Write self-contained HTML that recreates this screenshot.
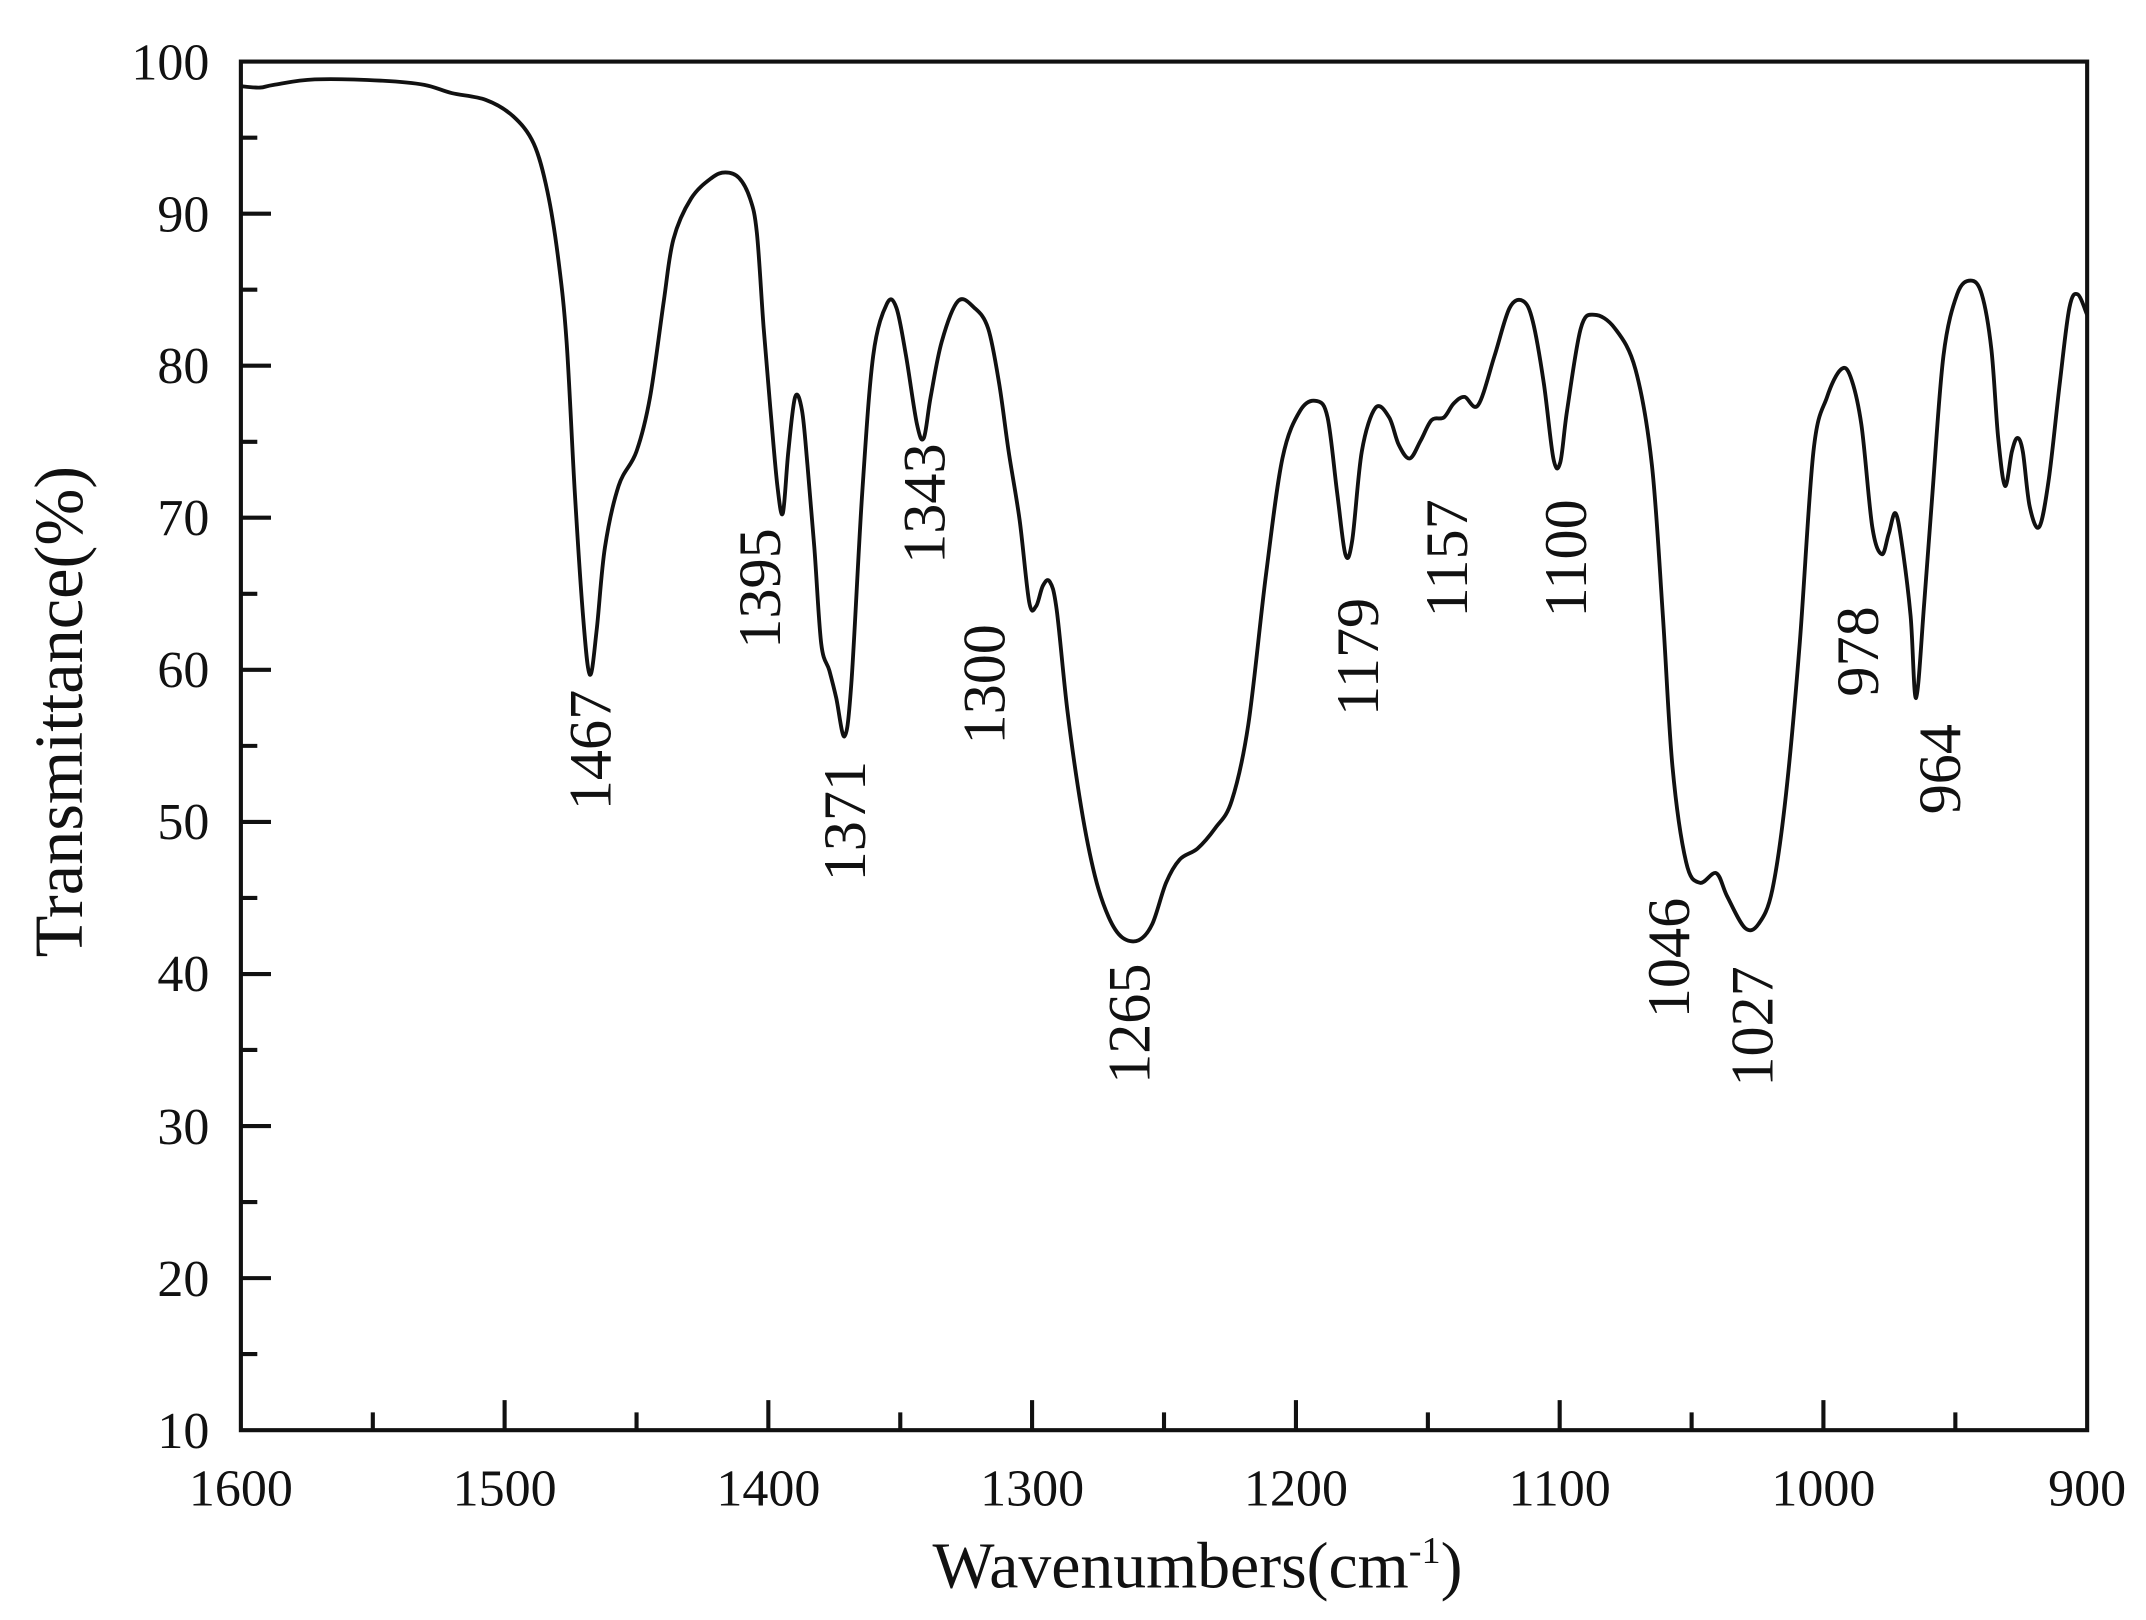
<!DOCTYPE html>
<html><head><meta charset="utf-8"><style>html,body{margin:0;padding:0;background:#fff}svg{display:block}</style></head>
<body>
<svg width="2146" height="1620" viewBox="0 0 1568 1183.7" preserveAspectRatio="none" xmlns="http://www.w3.org/2000/svg" font-family="'Liberation Serif', serif" fill="#111">
<rect x="0" y="0" width="1568" height="1184" fill="#fff"/>
<g stroke="#111" stroke-width="3" fill="none">
<rect x="176" y="45" width="1349" height="1000"/>
<path d="M176 156.1h22M176 267.2h22M176 378.3h22M176 489.4h22M176 600.6h22M176 711.7h22M176 822.8h22M176 933.9h22
M176 100.6h12M176 211.7h12M176 322.8h12M176 433.9h12M176 545h12M176 656.1h12M176 767.2h12M176 878.3h12M176 989.4h12"/>
<path d="M368.7 1045v-22M561.4 1045v-22M754.1 1045v-22M946.9 1045v-22M1139.6 1045v-22M1332.3 1045v-22
M272.4 1045v-13M465.1 1045v-13M657.8 1045v-13M850.5 1045v-13M1043.3 1045v-13M1236 1045v-13M1428.7 1045v-13"/>
</g>
<path id="curve" fill="none" stroke="#111" stroke-width="2.8" stroke-linejoin="round" d="M176,63 L190,64 L200,62 L230,58 L280,59 L310,62 L330,68 L355,73 L375,85 L390,105 L400,140 L408,190 L414,250 L420,360 L426,450 L431,493 L436,460 L442,400 L452,355 L465,330 L475,290 L485,220 L492,175 L505,145 L520,130 L530,126 L540,130 L548,145 L553,170 L558,240 L563,300 L568,355 L572,375 L576,330 L581,290 L586,300 L590,340 L595,400 L600,470 L606,490 L611,510 L617,538 L622,500 L630,360 L638,260 L648,222 L655,225 L662,260 L670,310 L675,320 L680,290 L688,250 L700,220 L712,225 L722,240 L730,280 L737,330 L745,380 L752,440 L757,443 L762,428 L767,425 L772,445 L780,520 L790,590 L800,640 L810,670 L820,685 L832,687 L842,675 L852,645 L862,628 L875,620 L888,605 L900,585 L912,530 L925,420 L937,335 L950,300 L962,293 L970,305 L977,360 L983,405 L988,395 L995,330 L1005,298 L1015,305 L1022,325 L1030,335 L1038,322 L1046,307 L1055,305 L1062,295 L1070,290 L1080,296 L1092,260 L1103,225 L1113,220 L1120,235 L1128,280 L1135,335 L1140,338 L1145,300 L1155,240 L1165,230 L1180,240 L1195,270 L1207,340 L1215,450 L1222,560 L1232,630 L1242,645 L1254,638 L1262,655 L1275,678 L1285,675 L1295,650 L1305,580 L1315,470 L1325,330 L1335,290 L1345,270 L1352,275 L1360,310 L1368,385 L1375,405 L1380,390 L1385,375 L1390,400 L1396,450 L1400,510 L1406,440 L1412,360 L1420,260 L1430,215 L1440,205 L1448,215 L1455,255 L1460,320 L1465,355 L1470,330 L1474,320 L1478,330 L1483,370 L1490,385 L1497,350 L1505,280 L1512,225 L1518,215 L1525,230"/>
<g font-size="38" text-anchor="end">
<text x="153" y="58">100</text><text x="153" y="169">90</text><text x="153" y="280">80</text><text x="153" y="391">70</text><text x="153" y="502">60</text><text x="153" y="613">50</text><text x="153" y="724">40</text><text x="153" y="836">30</text><text x="153" y="947">20</text><text x="153" y="1058">10</text>
</g>
<g font-size="38" text-anchor="middle">
<text x="176" y="1100">1600</text><text x="368.7" y="1100">1500</text><text x="561.4" y="1100">1400</text><text x="754.1" y="1100">1300</text><text x="946.9" y="1100">1200</text><text x="1139.6" y="1100">1100</text><text x="1332.3" y="1100">1000</text><text x="1525" y="1100">900</text>
<text x="875" y="1160" font-size="48">Wavenumbers(cm<tspan dy="-18" font-size="28">-1</tspan><tspan dy="18">)</tspan></text>
<text transform="translate(60,520) rotate(-90)" font-size="50">Transmittance(%)</text>
</g>
<g font-size="44" text-anchor="middle">
<text transform="translate(446,548) rotate(-90)">1467</text>
<text transform="translate(570,430) rotate(-90)">1395</text>
<text transform="translate(632,600) rotate(-90)">1371</text>
<text transform="translate(690,368) rotate(-90)">1343</text>
<text transform="translate(734,500) rotate(-90)">1300</text>
<text transform="translate(840,748) rotate(-90)">1265</text>
<text transform="translate(1007,480) rotate(-90)">1179</text>
<text transform="translate(1072,408) rotate(-90)">1157</text>
<text transform="translate(1159,408) rotate(-90)">1100</text>
<text transform="translate(1234,700) rotate(-90)">1046</text>
<text transform="translate(1295,750) rotate(-90)">1027</text>
<text transform="translate(1372,476) rotate(-90)">978</text>
<text transform="translate(1432,562) rotate(-90)">964</text>
</g>
</svg>
<script>
(function(){var p=document.getElementById('curve');var pts=p.getAttribute('d').replace(/[ML]/g,' ').trim().split(/\s+/).map(function(s){return s.split(',').map(Number)});
var d='M'+pts[0][0]+','+pts[0][1];for(var i=0;i<pts.length-1;i++){var p0=pts[Math.max(i-1,0)],p1=pts[i],p2=pts[i+1],p3=pts[Math.min(i+2,pts.length-1)];
var c1x=p1[0]+(p2[0]-p0[0])/6,c1y=p1[1]+(p2[1]-p0[1])/6,c2x=p2[0]-(p3[0]-p1[0])/6,c2y=p2[1]-(p3[1]-p1[1])/6;
d+=' C'+c1x.toFixed(1)+','+c1y.toFixed(1)+' '+c2x.toFixed(1)+','+c2y.toFixed(1)+' '+p2[0]+','+p2[1];}p.setAttribute('d',d);})();
</script>
</body></html>
